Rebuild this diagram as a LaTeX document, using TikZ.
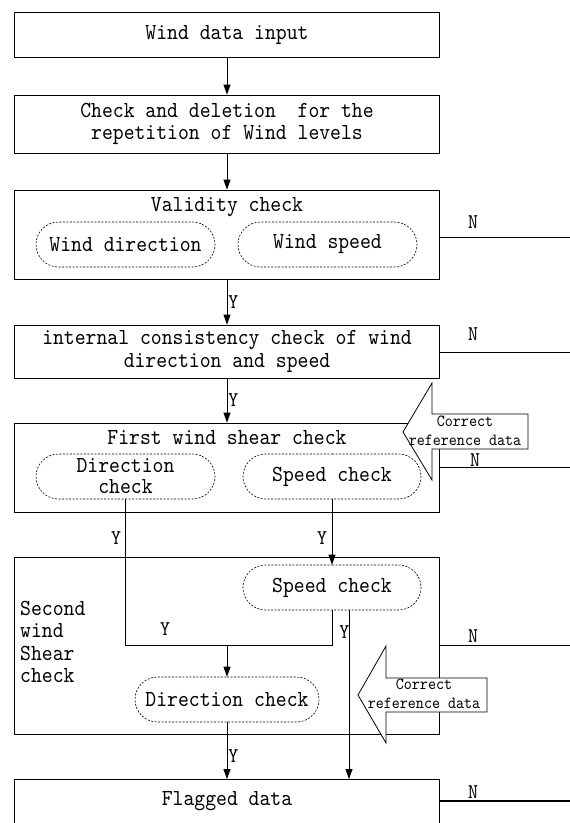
\documentclass[tikz,border=0pt]{standalone}
\usepackage{fontspec}
\setmainfont[FakeStretch=0.9]{lmmono10-regular.otf}
\usetikzlibrary{arrows.meta,shapes.misc}
\tikzset{
  box/.style={draw, line width=0.8pt, minimum width=425pt, inner sep=0pt},
  oval/.style={draw, rounded rectangle, dash pattern=on 2pt off 1.5pt, line width=0.6pt, minimum height=45pt, inner sep=0pt, align=center},
  txt/.style={inner sep=0pt, align=center, font=\fontsize{23}{22.5}\selectfont},
  lbl/.style={inner sep=1pt, font=\fontsize{21}{21}\selectfont},
  small/.style={inner sep=0pt, align=center, font=\fontsize{17}{18.5}\selectfont},
  arr/.style={line width=0.8pt, -{Triangle[length=10pt,width=7pt]}},
  ln/.style={line width=0.8pt},
  bigarrow/.style={draw, fill=white, line width=0.8pt, line join=miter},
}
\begin{document}
\begin{tikzpicture}[x=1pt,y=-1pt, font=\fontsize{23}{22.5}\selectfont]
\useasboundingbox (0,0) rectangle (570,823);
\clip (0,0) rectangle (570,823);
% boxes
\node[box, minimum height=45pt, txt] (b1) at (227,35) {Wind data input};
\node[box, minimum height=58pt, txt] (b2) at (227,124) {Check and deletion\ \ for the\\repetition of Wind levels};
\node[box, minimum height=89pt] (b3) at (227,234.5) {};
\node[txt] (t3) at (227,207) {Validity check};
\node[oval, minimum width=179pt] (wd) at (125.5,244.5) {Wind direction};
\node[oval, minimum width=179pt] (ws) at (327.5,244.5) {Wind speed};
\node[box, minimum height=53pt, txt] (b4) at (227,351.5) {internal consistency check of wind\\direction and speed};
\node[box, minimum height=89pt] (b5) at (227,467.5) {};
\node[txt] (t5) at (227,438) {First wind shear check};
\node[oval, minimum width=179pt, font=\fontsize{23}{21}\selectfont] (dc1) at (125.5,476.5) {Direction\\check};
\node[oval, minimum width=178pt] (sc1) at (332,476.5) {Speed check};
\node[box, minimum height=177pt] (b6) at (227,645.5) {};
\node[txt, anchor=west, align=left] (t6) at (20,642) {Second\\wind\\Shear\\check};
\node[oval, minimum width=178pt] (sc2) at (332,587.5) {Speed check};
\node[oval, minimum width=184pt] (dc2) at (227,699.5) {Direction check};
\node[box, minimum height=60pt, anchor=north] (b7) at (227,779) {};
\node[txt] (t7) at (227,801) {Flagged data};
% vertical flow
\draw[arr] (b1.south) -- (b2.north);
\draw[arr] (b2.south) -- (b3.north);
\draw[arr] (b3.south) -- node[lbl, right] {Y} (b4.north);
\draw[arr] (b4.south) -- node[lbl, right] {Y} (b5.north);
\coordinate (m) at (227,645);
\draw[ln] (dc1.south) |- (m);
\draw[ln] (sc2.south) |- (m);
\draw[arr] (m) -- (dc2.north);
\node[lbl] (y1) at (116,538) {Y};
\node[lbl] (y2) at (322,538) {Y};
\node[lbl] (y3) at (165,629) {Y};
\draw[arr] (sc1.south) -- (sc2.north);
\coordinate (s2) at ([xshift=17pt]sc2.south);
\draw[arr] (s2) -- (s2 |- b7.north);
\node[lbl, anchor=east, inner sep=0pt] (y4) at (349.5,632) {Y};
\draw[arr] (dc2.south) -- node[lbl, right, pos=0.6] {Y} (b7.north);
% N exits
\coordinate (e3) at (570,237);
\coordinate (e4) at (570,352);
\coordinate (e5) at (570,467);
\coordinate (e6) at (570,645);
\coordinate (e7) at (570,801);
\draw[ln] (b3.east |- e3) -- (e3);
\draw[ln] (b4.east |- e4) -- (e4);
\draw[ln] (b5.east |- e5) -- (e5);
\draw[ln] (b6.east |- e6) -- (e6);
\draw[line width=1.4pt] (b7.east |- e7) -- (e7);
\node[lbl] (n3) at (473,222) {N};
\node[lbl] (n4) at (473,334) {N};
\node[lbl] (n5) at (475,460) {N};
\node[lbl] (n6) at (473,636) {N};
\node[lbl] (n7) at (473,792) {N};
% correction arrows
\draw[bigarrow] (403,432) -- (432,383) -- (432,414) -- (528,414) -- (528,449) -- (432,449) -- (432,480) -- cycle;
\node[small] (c1) at (465,431) {Correct\\reference data};
\draw[bigarrow] (358,695) -- (386,646) -- (386,678) -- (487,678) -- (487,712) -- (386,712) -- (386,743) -- cycle;
\node[small] (c2) at (424,694) {Correct\\reference data};
\end{tikzpicture}
\end{document}
